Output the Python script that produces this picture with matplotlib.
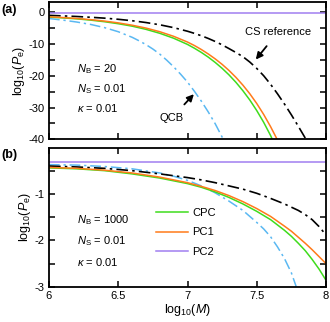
import numpy as np
import matplotlib
matplotlib.use("Agg")
import matplotlib.pyplot as plt
from matplotlib.ticker import FixedLocator

plt.rcParams['font.family'] = ['Liberation Sans', 'DejaVu Sans']
plt.rcParams['mathtext.fontset'] = 'custom'
plt.rcParams['mathtext.rm'] = 'Liberation Sans'
plt.rcParams['mathtext.it'] = 'Liberation Sans:italic'
plt.rcParams['axes.unicode_minus'] = False

# ---------------- data (log10 M, log10 Pe) ----------------
# Panel (a): N_B = 20
a_cs_x = [6.0, 6.1, 6.2, 6.3, 6.4, 6.5, 6.6, 6.7, 6.8, 6.9, 7.0, 7.05, 7.1, 7.15,
          7.2, 7.25, 7.3, 7.35, 7.4, 7.45, 7.5, 7.55, 7.6, 7.65, 7.7, 7.75, 7.8,
          7.85, 7.856]
a_cs_y = [-1.0, -1.17, -1.36, -1.6, -1.88, -2.24, -2.69, -3.26, -3.97, -4.87, -6.0,
          -6.67, -7.42, -8.27, -9.22, -10.28, -11.47, -12.7, -14.0, -15.7, -17.7,
          -20.0, -22.7, -25.7, -28.9, -32.3, -35.9, -39.6, -40.0]

a_pc1_x = [6.0, 6.1, 6.2, 6.3, 6.4, 6.5, 6.6, 6.7, 6.8, 6.9, 7.0, 7.05, 7.1, 7.15,
           7.2, 7.25, 7.3, 7.35, 7.4, 7.45, 7.5, 7.55, 7.6, 7.647]
a_pc1_y = [-1.45, -1.7, -1.98, -2.35, -2.8, -3.37, -4.1, -5.0, -6.15, -7.6, -9.4,
           -10.5, -11.75, -13.15, -14.7, -16.42, -18.36, -20.53, -22.96, -25.68,
           -28.74, -32.18, -36.03, -40.0]

a_cpc_x = [6.0, 6.1, 6.2, 6.3, 6.4, 6.5, 6.6, 6.7, 6.8, 6.9, 7.0, 7.05, 7.1, 7.15,
           7.2, 7.25, 7.3, 7.35, 7.4, 7.45, 7.5, 7.55, 7.6, 7.612]
a_cpc_y = [-1.55, -1.8, -2.1, -2.5, -3.0, -3.63, -4.4, -5.4, -6.65, -8.2, -10.15,
           -11.35, -12.67, -14.15, -15.82, -17.67, -19.75, -22.09, -24.72, -27.65,
           -30.96, -34.66, -38.82, -40.0]

a_qcb_x = [6.0, 6.1, 6.2, 6.3, 6.4, 6.5, 6.6, 6.65, 6.7, 6.75, 6.8, 6.85, 6.9,
           6.95, 7.0, 7.05, 7.1, 7.15, 7.2, 7.25, 7.258]
a_qcb_y = [-2.0, -2.5, -3.1, -3.85, -4.85, -6.15, -7.9, -9.0, -10.2, -11.6, -13.2,
           -15.1, -17.2, -19.5, -22.0, -24.9, -28.0, -31.4, -35.1, -39.3, -40.0]

a_pc2_x = [6.0, 8.0]
a_pc2_y = [-0.3, -0.3]

# Panel (b): N_B = 1000
b_cs_x = [6.0, 6.2, 6.4, 6.6, 6.8, 7.0, 7.1, 7.2, 7.3, 7.4, 7.5, 7.6, 7.7, 7.75,
          7.8, 7.85, 7.9, 7.95, 8.0]
b_cs_y = [-0.39, -0.41, -0.44, -0.49, -0.56, -0.64, -0.69, -0.75, -0.82, -0.89,
          -0.98, -1.09, -1.21, -1.28, -1.35, -1.44, -1.55, -1.70, -1.88]

b_pc1_x = [6.0, 6.2, 6.4, 6.6, 6.8, 7.0, 7.1, 7.2, 7.3, 7.4, 7.5, 7.6, 7.7, 7.75,
           7.8, 7.85, 7.9, 7.95, 8.0]
b_pc1_y = [-0.42, -0.44, -0.48, -0.54, -0.63, -0.75, -0.83, -0.92, -1.03, -1.16,
           -1.31, -1.48, -1.69, -1.80, -1.93, -2.06, -2.20, -2.35, -2.50]

b_cpc_x = [6.0, 6.2, 6.4, 6.6, 6.8, 7.0, 7.1, 7.2, 7.3, 7.4, 7.5, 7.6, 7.7, 7.75,
           7.8, 7.85, 7.9, 7.95, 8.0]
b_cpc_y = [-0.43, -0.45, -0.49, -0.56, -0.65, -0.77, -0.85, -0.95, -1.07, -1.21,
           -1.37, -1.55, -1.78, -1.91, -2.06, -2.22, -2.41, -2.62, -2.86]

b_qcb_x = [6.0, 6.2, 6.4, 6.6, 6.8, 6.9, 7.0, 7.1, 7.2, 7.3, 7.4, 7.45, 7.5, 7.55,
           7.6, 7.65, 7.7, 7.75, 7.785]
b_qcb_y = [-0.36, -0.37, -0.40, -0.45, -0.54, -0.61, -0.70, -0.82, -0.97, -1.15,
           -1.35, -1.48, -1.61, -1.75, -1.92, -2.14, -2.39, -2.70, -3.0]

b_pc2_x = [6.0, 8.0]
b_pc2_y = [-0.3, -0.3]

xticks = [6, 6.5, 7, 7.5, 8]
xticklabels = ['6', '6.5', '7', '7.5', '8']
a_yticks = [0, -10, -20, -30, -40]
b_yticks = [-1, -2, -3]

# ---------------- styles ----------------
C_CPC = '#3fdc1c'
C_PC1 = '#ff7a1a'
C_PC2 = '#a07ff0'
C_QCB = '#5ab8f2'
C_CS = 'black'
DASHDOT = (0, (7, 2.5, 1.5, 2.5))
LW = 1.1
FS = 8
FSL = 9

W, H = 330, 322
fig = plt.figure(figsize=(W / 100, H / 100), dpi=100)

def frac(x0, y0, x1, y1):
    return [x0 / W, 1 - y1 / H, (x1 - x0) / W, (y1 - y0) / H]

axa = fig.add_axes(frac(49, 2, 326, 139.3))
axb = fig.add_axes(frac(49, 148, 326, 286.7))

def style(ax):
    for s in ax.spines.values():
        s.set_linewidth(1.3)
    ax.tick_params(which='both', direction='in', top=True, right=True,
                   length=4, width=1.1, labelsize=FS, pad=3)
    ax.set_xlim(6, 8)
    ax.set_xticks(xticks)

def draw(ax, cs, pc1, cpc, qcb, pc2):
    p2 = ax.plot(*pc2, color=C_PC2, lw=LW)[0]
    ax.plot(*qcb, color=C_QCB, lw=LW, linestyle=DASHDOT)
    ax.plot(*cs, color=C_CS, lw=LW + 0.1, linestyle=DASHDOT)
    l1 = ax.plot(*cpc, color=C_CPC, lw=LW)[0]
    l2 = ax.plot(*pc1, color=C_PC1, lw=LW)[0]
    return l1, l2, p2

# Panel (a)
draw(axa, (a_cs_x, a_cs_y), (a_pc1_x, a_pc1_y), (a_cpc_x, a_cpc_y),
     (a_qcb_x, a_qcb_y), (a_pc2_x, a_pc2_y))
style(axa)
axa.set_ylim(-40, 3.2)
axa.set_yticks(a_yticks)
axa.yaxis.set_minor_locator(FixedLocator([-5, -15, -25, -35]))
axa.tick_params(axis='x', labelbottom=False)
axa.set_ylabel(r'log$_{10}$($P_\mathrm{e}$)', fontsize=FSL, labelpad=1)

axa.text(6.2, -18, r'$N_\mathrm{B}$ = 20', fontsize=FS, va='center')
axa.text(6.2, -24.2, r'$N_\mathrm{S}$ = 0.01', fontsize=FS, va='center')
axa.text(6.2, -30.2, r'$\kappa$ = 0.01', fontsize=FS, va='center')

arrow = dict(arrowstyle='-|>,head_length=0.5,head_width=0.25',
             color='black', lw=1.3, shrinkA=6, shrinkB=0)
axa.annotate('CS reference', xy=(7.493, -14.9), xytext=(7.655, -6.2),
             fontsize=FS, ha='center', va='center', arrowprops=arrow)
axa.annotate('QCB', xy=(7.046, -25.8), xytext=(6.884, -33.4),
             fontsize=FS, ha='center', va='center', arrowprops=arrow)

# Panel (b)
l1, l2, p2 = draw(axb, (b_cs_x, b_cs_y), (b_pc1_x, b_pc1_y), (b_cpc_x, b_cpc_y),
                  (b_qcb_x, b_qcb_y), (b_pc2_x, b_pc2_y))
style(axb)
axb.set_ylim(-3, 0)
axb.set_yticks(b_yticks)
axb.yaxis.set_minor_locator(FixedLocator([-0.5, -1.5, -2.5]))
axb.set_xticklabels(xticklabels)
axb.set_ylabel(r'log$_{10}$($P_\mathrm{e}$)', fontsize=FSL, labelpad=1)
axb.set_xlabel(r'log$_{10}$($M$)', fontsize=FSL, labelpad=1)

axb.text(6.2, -1.57, r'$N_\mathrm{B}$ = 1000', fontsize=FS, va='center')
axb.text(6.2, -2.02, r'$N_\mathrm{S}$ = 0.01', fontsize=FS, va='center')
axb.text(6.2, -2.47, r'$\kappa$ = 0.01', fontsize=FS, va='center')

axb.legend([l1, l2, p2], ['CPC', 'PC1', 'PC2'], loc='upper left',
           bbox_to_anchor=((156 - 49) / 277, 1 - (208 - 148) / 138.7),
           frameon=False, fontsize=FS, handlelength=2.9, handletextpad=0.35,
           labelspacing=0.85, borderpad=0, borderaxespad=0)

fig.text(1 / W, 1 - 10 / H, '(a)', fontsize=9, fontweight='bold', va='center')
fig.text(1 / W, 1 - 155 / H, '(b)', fontsize=9, fontweight='bold', va='center')

fig.savefig('out.png', dpi=100)
